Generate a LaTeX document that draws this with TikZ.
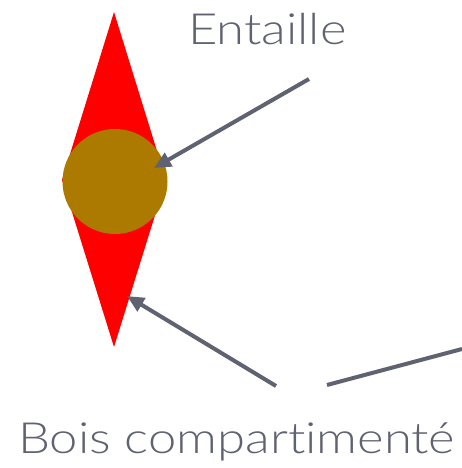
\documentclass[tikz,border=0pt]{standalone}
\usepackage{fontspec}
\IfFontExistsTF{Lato Light}{\setmainfont{Lato Light}[FakeStretch=1.18,Ligatures={NoCommon}]}{\setmainfont{Lato}[FakeStretch=1.12,Ligatures={NoCommon}]}
\usetikzlibrary{arrows.meta}
\definecolor{woodred}{RGB}{255,0,0}
\definecolor{notch}{RGB}{173,122,0}
\definecolor{slate}{RGB}{95,98,112}
\tikzset{
  pointer/.style={draw=slate,line width=4pt,-{Triangle[length=17pt,width=15pt]}},
  plainline/.style={draw=slate,line width=4pt},
  label/.style={text=slate,font=\fontsize{43}{50}\selectfont,inner sep=0pt,anchor=base west}
}
\begin{document}
\begin{tikzpicture}[x=1pt,y=-1pt]
\useasboundingbox (0,0) rectangle (462,468);
\coordinate (top) at (114,12);
\coordinate (right) at (166,180);
\coordinate (bottom) at (114,347);
\coordinate (left) at (62,180);
\fill[woodred] (top) -- (right) -- (bottom) -- (left) -- cycle;
\node[circle,fill=notch,minimum size=105pt,inner sep=0pt] (hole) at (115,181.5) {};
\node[label] (entaille) at (188,45) {Entaille};
\node[label] (bois) at (18,453) {Bois compartimenté};
\coordinate (a1s) at (309,79);
\coordinate (a1e) at (154,168);
\coordinate (a2s) at (276,386);
\coordinate (a2e) at (127,296);
\coordinate (l3s) at (327,385);
\coordinate (l3e) at (462,349);
\draw[pointer] (a1s) -- (a1e);
\draw[pointer] (a2s) -- (a2e);
\draw[plainline] (l3s) -- (l3e);
\end{tikzpicture}
\end{document}
